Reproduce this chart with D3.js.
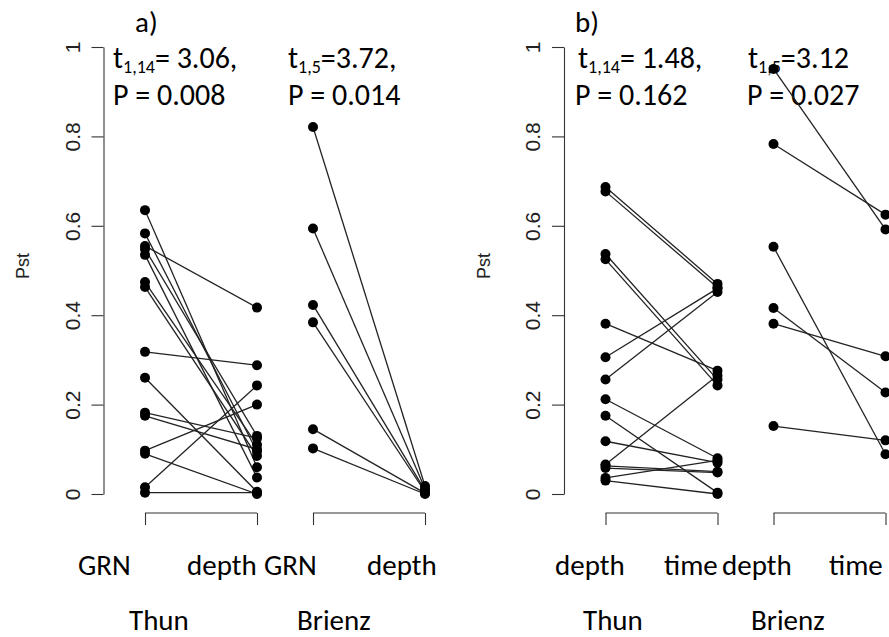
<!DOCTYPE html>
<html>
<head>
<meta charset="utf-8">
<script src="https://cdn.jsdelivr.net/npm/d3@7"></script>
<style>
  html, body { margin: 0; padding: 0; background: #fff; }
  svg { display: block; }
</style>
</head>
<body>
<svg id="chart" width="889" height="637"></svg>
<script>
// ---------------- data ----------------
const yTickValues = [0, 0.2, 0.4, 0.6, 0.8, 1];
const yTickLabels = ["0", "0.2", "0.4", "0.6", "0.8", "1"];
const yAxisTitle = "Pst";

const panelNames = ["a)", "b)"];
const lakes = ["Thun", "Brienz"];
const aCategories = ["GRN", "depth"];
const bCategories = ["depth", "time"];

// panel a) : GRN vs depth
const aThunGRN     = [0.635, 0.583, 0.555, 0.548, 0.535, 0.474, 0.463, 0.318, 0.260, 0.182, 0.175, 0.097, 0.090, 0.015, 0.003];
const aThunDepth   = [0.060, 0.095, 0.417, 0.130, 0.037, 0.110, 0.085, 0.288, 0.005, 0.125, 0.100, 0.200, 0.000, 0.243, 0.003];
const aBrienzGRN   = [0.821, 0.594, 0.423, 0.384, 0.145, 0.102];
const aBrienzDepth = [0.018, 0.012, 0.008, 0.005, 0.002, 0.000];

// panel b) : depth vs time
const bThunDepth   = [0.687, 0.677, 0.537, 0.525, 0.381, 0.306, 0.256, 0.212, 0.175, 0.118, 0.066, 0.063, 0.058, 0.036, 0.030];
const bThunTime    = [0.470, 0.462, 0.256, 0.243, 0.276, 0.460, 0.452, 0.080, 0.003, 0.070, 0.265, 0.050, 0.048, 0.075, 0.000];
const bBrienzDepth = [0.951, 0.783, 0.553, 0.416, 0.381, 0.152];
const bBrienzTime  = [0.592, 0.625, 0.089, 0.227, 0.308, 0.120];

// test annotations
const aStats = [
  { sub: "1,14", t: "= 3.06,", p: "P = 0.008" },
  { sub: "1,5",  t: "=3.72,",  p: "P = 0.014" }
];
const bStats = [
  { sub: "1,14", t: "= 1.48,", p: "P = 0.162" },
  { sub: "1,5",  t: "=3.12",   p: "P = 0.027" }
];

// ---------------- drawing ----------------
const svg = d3.select("#chart");
const labelFont = "Carlito, Lato, 'Open Sans', sans-serif";
const axisFont = "'Liberation Sans', Arial, Helvetica, sans-serif";

const y = d3.scaleLinear().domain([0, 1]).range([494, 47]);

const panels = [
  { name: panelNames[0], offset: 0, nameX: 135, cats: aCategories, stats: aStats,
    groups: [[aThunGRN, aThunDepth], [aBrienzGRN, aBrienzDepth]],
    catX: [78, 187, 264, 367], lakeX: [129, 297], statX: [[113, 113], [288, 288]] },
  { name: panelNames[1], offset: 460.5, nameX: 575, cats: bCategories, stats: bStats,
    groups: [[bThunDepth, bThunTime], [bBrienzDepth, bBrienzTime]],
    catX: [555, 664, 722, 829], lakeX: [583, 751], statX: [[578, 575], [748, 747]] }
];

panels.forEach(p => {
  const g = svg.append("g");
  const x = d3.scaleLinear().domain([1, 2]).range([145 + p.offset, 257 + p.offset]);
  const groupPos = [[1, 2], [2.5, 3.5]];

  // y axis
  const yAxis = d3.axisLeft(y).tickValues(yTickValues)
    .tickFormat((d, i) => yTickLabels[i]).tickSize(12).tickSizeOuter(0);
  const ax = g.append("g").attr("transform", `translate(${103.5 + p.offset},0)`).call(yAxis);
  ax.select(".domain").attr("stroke", "#333").attr("stroke-width", 1.1);
  ax.selectAll(".tick line").attr("stroke", "#333").attr("stroke-width", 1.1);
  ax.selectAll(".tick text")
    .attr("font-family", axisFont).attr("font-size", 21).attr("fill", "#222")
    .attr("x", null).attr("dy", null)
    .attr("text-anchor", "middle")
    .attr("transform", "translate(-24,0) rotate(-90)");

  // y title
  g.append("text")
    .attr("transform", `translate(${29 + p.offset},266) rotate(-90)`)
    .attr("text-anchor", "middle")
    .attr("font-family", axisFont).attr("font-size", 18).attr("fill", "#222")
    .text(yAxisTitle);

  // panel letter
  g.append("text").attr("x", p.nameX).attr("y", 32)
    .attr("font-family", labelFont).attr("font-size", 29).text(p.name);

  // statistics text
  p.stats.forEach((s, i) => {
    const t = g.append("text").attr("x", p.statX[i][0]).attr("y", 68)
      .attr("font-family", labelFont).attr("font-size", 30);
    t.append("tspan").text("t");
    t.append("tspan").attr("font-size", 18).attr("dy", 5).text(s.sub);
    t.append("tspan").attr("dy", -5).text(s.t);
    g.append("text").attr("x", p.statX[i][1]).attr("y", 105)
      .attr("font-family", labelFont).attr("font-size", 30).text(s.p);
  });

  // bottom brackets (x axes without labels)
  p.groups.forEach((grp, gi) => {
    const xa = d3.axisBottom(x).tickValues(groupPos[gi]).tickFormat("").tickSize(12).tickSizeOuter(0);
    const bx = g.append("g").attr("transform", "translate(0,513)").call(xa);
    bx.select(".domain").remove();
    bx.selectAll(".tick line").attr("stroke", "#333").attr("stroke-width", 1.1);
    g.append("line")
      .attr("x1", x(groupPos[gi][0])).attr("x2", x(groupPos[gi][1]))
      .attr("y1", 513).attr("y2", 513)
      .attr("stroke", "#333").attr("stroke-width", 1.1);
  });

  // category labels
  const catLabels = [p.cats[0], p.cats[1], p.cats[0], p.cats[1]];
  catLabels.forEach((c, i) => {
    g.append("text").attr("x", p.catX[i]).attr("y", 575)
      .attr("font-family", labelFont).attr("font-size", 29).text(c);
  });
  lakes.forEach((l, i) => {
    g.append("text").attr("x", p.lakeX[i]).attr("y", 630)
      .attr("font-family", labelFont).attr("font-size", 29).text(l);
  });

  // data: lines then points
  p.groups.forEach((grp, gi) => {
    const [left, right] = grp;
    const pairs = left.map((v, i) => [v, right[i]]);
    g.append("g").selectAll("line").data(pairs).join("line")
      .attr("x1", x(groupPos[gi][0])).attr("x2", x(groupPos[gi][1]))
      .attr("y1", d => y(d[0])).attr("y2", d => y(d[1]))
      .attr("stroke", "#222").attr("stroke-width", 1.3);
    const pts = [];
    pairs.forEach(d => { pts.push([groupPos[gi][0], d[0]]); pts.push([groupPos[gi][1], d[1]]); });
    g.append("g").selectAll("circle").data(pts).join("circle")
      .attr("cx", d => x(d[0])).attr("cy", d => y(d[1])).attr("r", 5)
      .attr("fill", "#000");
  });
});
</script>
</body>
</html>
